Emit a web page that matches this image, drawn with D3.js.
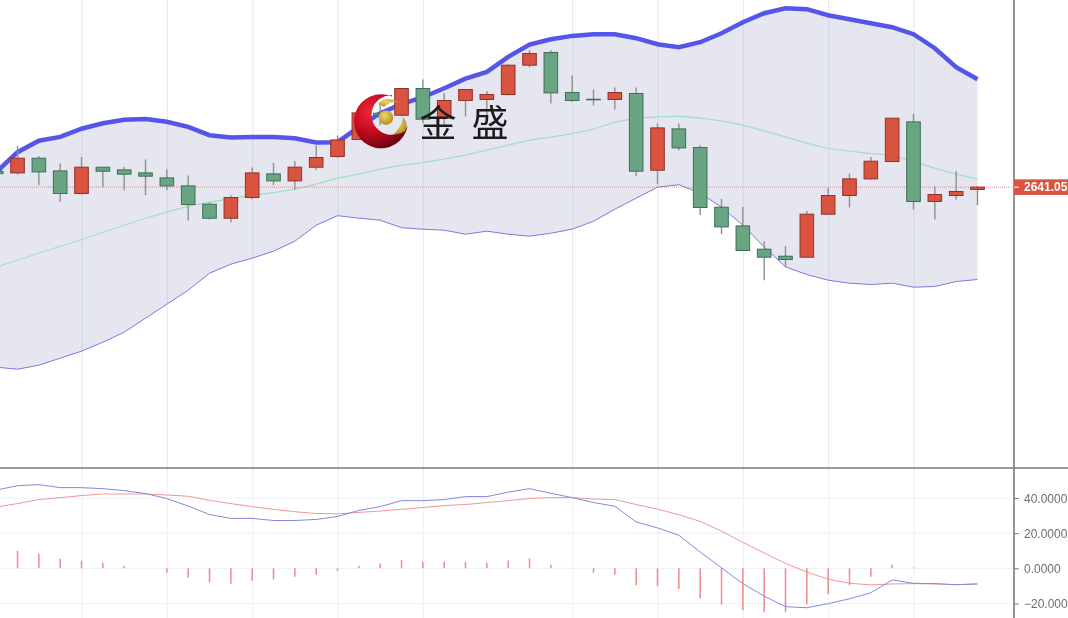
<!DOCTYPE html>
<html><head><meta charset="utf-8">
<script src="https://cdn.jsdelivr.net/npm/d3@7/dist/d3.min.js"></script>
<style>html,body{margin:0;padding:0;background:#fff;overflow:hidden}svg{display:block;filter:blur(.35px)}</style>
</head><body><svg id="c" width="1068" height="618"></svg>
<script>
const open=[2657,2655.3,2670,2657.3,2634.7,2661,2658.3,2655.3,2650.3,2642.3,2624,2610,2630.7,2654.3,2647.3,2661,2671.7,2688.7,2715,2713,2739.7,2710,2727.7,2728.7,2733.7,2763,2775.7,2735.7,2729,2728.7,2734.7,2658,2699.3,2680.7,2621,2602.3,2579,2572,2571,2614,2632.7,2649.3,2666.7,2706.3,2626.7,2632.7,2638.7];
const close=[2654.5,2670,2656.3,2634.7,2661,2657,2654,2652,2642.3,2623.7,2610,2630.7,2655.3,2647.3,2661,2670.7,2688.3,2715.3,2713,2739.7,2709,2727.7,2738.7,2733.7,2763,2774.7,2735.3,2727.7,2728.4,2735.7,2657,2700.3,2680.3,2620.7,2601.3,2577.7,2571,2568.7,2614,2632.7,2649.3,2667,2710,2626.7,2633.7,2636.7,2641.05];
const high=[2658,2682.3,2672.3,2664.7,2671.3,2661,2661.3,2668.7,2658.7,2652.7,2626,2633,2660.7,2665.3,2667.3,2682.7,2692.7,2716,2726,2740,2748.7,2735.3,2738.7,2737.3,2764,2778,2778,2752.7,2738.7,2740.7,2740.7,2704.7,2704.7,2683,2629.3,2621.3,2587,2582.3,2617.3,2640.3,2654.7,2671.3,2710,2714.3,2641.7,2657.3,2641.7];
const low=[2654,2653.7,2643,2626.3,2633.7,2640.7,2638,2633,2638,2607.7,2608.7,2605.7,2629.3,2643,2638.7,2658,2670.3,2688.7,2703,2712,2705,2703,2711.7,2710,2732.7,2760.7,2724.7,2726.3,2722.7,2718.7,2652,2644,2678,2613.3,2594,2577.7,2548,2561.3,2571,2614,2620.7,2649,2666.7,2618.7,2608.7,2628.7,2623];
const bollUpper=[2656,2676,2687.5,2691.3,2699.5,2705,2708.5,2709.3,2706.5,2701.3,2693,2690.7,2691.3,2691.3,2690,2685.7,2686,2701,2715,2724,2731,2740,2749.5,2756.3,2771.3,2783.7,2789,2792.3,2794,2794,2790,2784,2781,2786,2795,2806,2815,2820,2819,2813,2809,2805,2801,2794,2780,2761,2749];
const bollMiddle=[2561,2568,2575,2582,2588.5,2596,2603,2610,2616,2622,2626,2629.5,2633,2635.5,2639,2644,2650,2654,2659,2663,2665.5,2669,2673,2678,2683,2688,2691,2694.5,2699,2706,2710,2711.3,2712,2710,2707.3,2703,2697.3,2691.3,2685,2679.7,2677,2674.5,2673,2666.3,2660,2654,2649];
const bollLower=[2461,2459,2463,2470,2477,2486,2496,2510,2524,2538,2555,2564,2570,2577,2587,2603,2612.5,2610,2608,2600.5,2599,2598,2594,2597,2594,2592,2595,2599,2607,2619,2630,2641,2643.5,2635,2621,2603,2581.3,2561.3,2553.7,2548,2545,2543.7,2545,2541,2541.7,2546.7,2548.7];
const macdDif=[44.5,47,47.6,45.9,45.9,45.3,44.2,42.5,39.7,35.4,30.6,28.4,28.4,27.2,27.2,27.8,29.5,32.9,35.1,38.5,38.5,39.1,40.8,40.8,43.3,45.3,42.7,40.2,37.4,35.3,26.4,23,18.8,9.3,0.3,-8.7,-15.8,-21.8,-22.4,-20.1,-17.3,-13.9,-6.6,-8.5,-8.7,-9.3,-8.9];
const macdDea=[34.9,36.8,39.1,40.2,41.4,42.3,42.3,42.3,41.7,41,38.7,36.8,35.1,33.5,32.2,31.2,31,31.8,32.6,33.5,34.6,35.7,36.3,37.4,38.5,39.7,40.2,40.2,39.4,39.1,36.3,33.7,30.5,26.7,21.2,14.8,8.7,2.8,-2.1,-6.2,-8.5,-9.4,-8.9,-8.7,-8.9,-9.3,-8.9];
const macdHist=[0,10,8.3,5.4,4.4,3.3,1.5,0,-2.5,-5.2,-8,-8.7,-7.1,-6.3,-4.8,-3.7,-1.5,1.5,2.7,4.8,3.7,3.7,3.7,3.3,4.4,5.6,2.1,0,-2.5,-3.7,-9.6,-10.2,-11.7,-17.1,-20.6,-23.8,-25,-25,-20.6,-14.8,-9.6,-4.8,2.1,0.4,0,0,0];
const gridIndex=[4,8,12,16,20,27,31,35,39,43];
const macdTicks=[40,20,0,-20];
const lastPrice=2641.05;
const logoText=["金","盛"];

const W=1068,H=618,axisX=1014,paneSplit=468;
const idx=d3.range(open.length);
const x=d3.scaleLinear().domain([0,46]).range([-3.8,977.5]);
const y=d3.scaleLinear().domain([2828.2,2828.2-618]).range([0,618]);
const ym=d3.scaleLinear().domain([40,-20]).range([498,603.5]);
const svg=d3.select("#c");
const defs=svg.append("defs");
defs.append("clipPath").attr("id","main").append("rect").attr("width",axisX).attr("height",paneSplit);
defs.append("clipPath").attr("id","sub").append("rect").attr("y",paneSplit).attr("width",axisX).attr("height",H-paneSplit);
const rg=defs.append("radialGradient").attr("id","ball").attr("gradientUnits","userSpaceOnUse")
  .attr("cx",372).attr("cy",112).attr("r",38);
rg.append("stop").attr("offset",0).attr("stop-color","#ee2a3c");
rg.append("stop").attr("offset",.5).attr("stop-color","#c80b1e");
rg.append("stop").attr("offset",1).attr("stop-color","#6d0410");
const gg=defs.append("radialGradient").attr("id","gold").attr("cx",.4).attr("cy",.35).attr("r",.7);
gg.append("stop").attr("offset",0).attr("stop-color","#efd766");
gg.append("stop").attr("offset",1).attr("stop-color","#ad8a1c");

const gMain=svg.append("g").attr("clip-path","url(#main)");
const gSub=svg.append("g").attr("clip-path","url(#sub)");

// vertical grid
[gMain,gSub].forEach(g=>g.selectAll("line.g").data(gridIndex).join("line").attr("class","g")
  .attr("x1",d=>x(d)+.5).attr("x2",d=>x(d)+.5).attr("y1",0).attr("y2",H)
  .attr("stroke","#eef2f7").attr("stroke-width",1.2));

// Bollinger band
gMain.append("path").datum(idx)
  .attr("d",d3.area().x(i=>x(i)).y0(i=>y(bollLower[i])).y1(i=>y(bollUpper[i])))
  .attr("fill","#1c1c80").attr("fill-opacity",.11);
gMain.selectAll("line.g2").data(gridIndex).join("line").attr("class","g2")
  .attr("x1",d=>x(d)+.5).attr("x2",d=>x(d)+.5).attr("y1",0).attr("y2",paneSplit)
  .attr("stroke","#cfd9e6").attr("stroke-opacity",.25).attr("stroke-width",1);
const ln=(arr,sc)=>d3.line().x(i=>x(i)).y(i=>sc(arr[i]))(idx);
gMain.append("path").attr("d",ln(bollUpper,y)).attr("fill","none").attr("stroke","#5555ea").attr("stroke-width",4.5);
gMain.append("path").attr("d",ln(bollLower,y)).attr("fill","none").attr("stroke","#7a7ae0").attr("stroke-width",1);
gMain.append("path").attr("d",ln(bollMiddle,y)).attr("fill","none").attr("stroke","#a0dfc6").attr("stroke-width",1.2);

// price line
gMain.append("line").attr("x1",0).attr("x2",axisX).attr("y1",y(lastPrice)).attr("y2",y(lastPrice))
  .attr("stroke","#d9533f").attr("stroke-width",.8).attr("stroke-dasharray","1 1").attr("stroke-opacity",.8);

// candles
const candle=gMain.selectAll("g.c").data(idx).join("g").attr("class","c");
candle.append("line").attr("x1",i=>x(i)).attr("x2",i=>x(i))
  .attr("y1",i=>y(high[i])).attr("y2",i=>y(low[i])).attr("stroke","#8f8f8f").attr("stroke-width",1.4);
candle.append("rect").attr("x",i=>x(i)-6.8).attr("width",13.6)
  .attr("y",i=>y(Math.max(open[i],close[i])))
  .attr("height",i=>Math.abs(y(open[i])-y(close[i])))
  .attr("fill",i=>close[i]>=open[i]?"#da5340":"#6aa583")
  .attr("stroke",i=>close[i]>=open[i]?"#8e3328":"#3e6e58").attr("stroke-width",1);

// logo
const logo=svg.append("g");
logo.append("path").attr("fill","url(#ball)")
 .attr("d","M392 96.6 A27 27 0 1 0 407.6 126 A19.7 19.7 0 1 1 392 95.3Z");
logo.append("path").attr("fill","url(#gold)").attr("d","M378 104 Q386 95 399 102 Q390 101 384 107 Q381 105 378 104Z");
logo.append("path").attr("fill","url(#gold)").attr("d","M394 134 Q402 126 403 117 Q409 124 405 131 Q400 135 394 134Z");
logo.append("circle").attr("cx",386).attr("cy",117.7).attr("r",7.2).attr("fill","url(#gold)");
logo.selectAll("text").data(logoText).join("text")
  .attr("x",(d,i)=>438+i*52).attr("y",136.5).attr("text-anchor","middle")
  .attr("font-family","'Noto Sans CJK SC'").attr("font-size",37).attr("fill","#1c1c1c").text(d=>d);

// MACD pane
gSub.selectAll("line.h").data(macdTicks).join("line").attr("class","h")
  .attr("x1",0).attr("x2",axisX).attr("y1",d=>ym(d)).attr("y2",d=>ym(d))
  .attr("stroke","#eef3f7").attr("stroke-width",1.2);
gSub.selectAll("line.b").data(idx).join("line").attr("class","b")
  .attr("x1",i=>x(i)).attr("x2",i=>x(i)).attr("y1",ym(0)).attr("y2",i=>ym(macdHist[i]))
  .attr("stroke","#ee8a8a").attr("stroke-width",1.5);
gSub.append("path").attr("d",ln(macdDea,ym)).attr("fill","none").attr("stroke","#ee9696").attr("stroke-width",1);
gSub.append("path").attr("d",ln(macdDif,ym)).attr("fill","none").attr("stroke","#8686dc").attr("stroke-width",1);

// axes and frame
svg.append("line").attr("x1",0).attr("x2",W).attr("y1",paneSplit).attr("y2",paneSplit).attr("stroke","#7a7a7a").attr("stroke-width",1.6);
svg.append("line").attr("x1",axisX).attr("x2",axisX).attr("y1",0).attr("y2",H).attr("stroke","#7a7a7a").attr("stroke-width",1.6);
const ax=svg.append("g").attr("transform",`translate(${axisX},0)`)
  .call(d3.axisRight(ym).tickValues(macdTicks).tickSize(5).tickPadding(5).tickFormat(d3.format(".4f")));
ax.select(".domain").remove();
ax.selectAll("line").attr("stroke","#7a7a7a");
ax.selectAll("text").attr("font-family","'Liberation Sans'").attr("font-size",12).attr("fill","#6e6e6e").attr("dy","0.35em");

// last price tag
const tag=svg.append("g").attr("transform",`translate(${axisX},${y(lastPrice)})`);
tag.append("rect").attr("y",-7.8).attr("width",W-axisX).attr("height",15.6).attr("fill","#da5340");
tag.append("line").attr("x1",0).attr("x2",5).attr("stroke","#fff").attr("stroke-width",1);
tag.append("text").attr("x",10).attr("dy","0.35em").attr("font-family","'Liberation Sans'")
  .attr("font-size",12).attr("font-weight","bold").attr("fill","#fff").text(d3.format(".2f")(lastPrice));
</script></body></html>
